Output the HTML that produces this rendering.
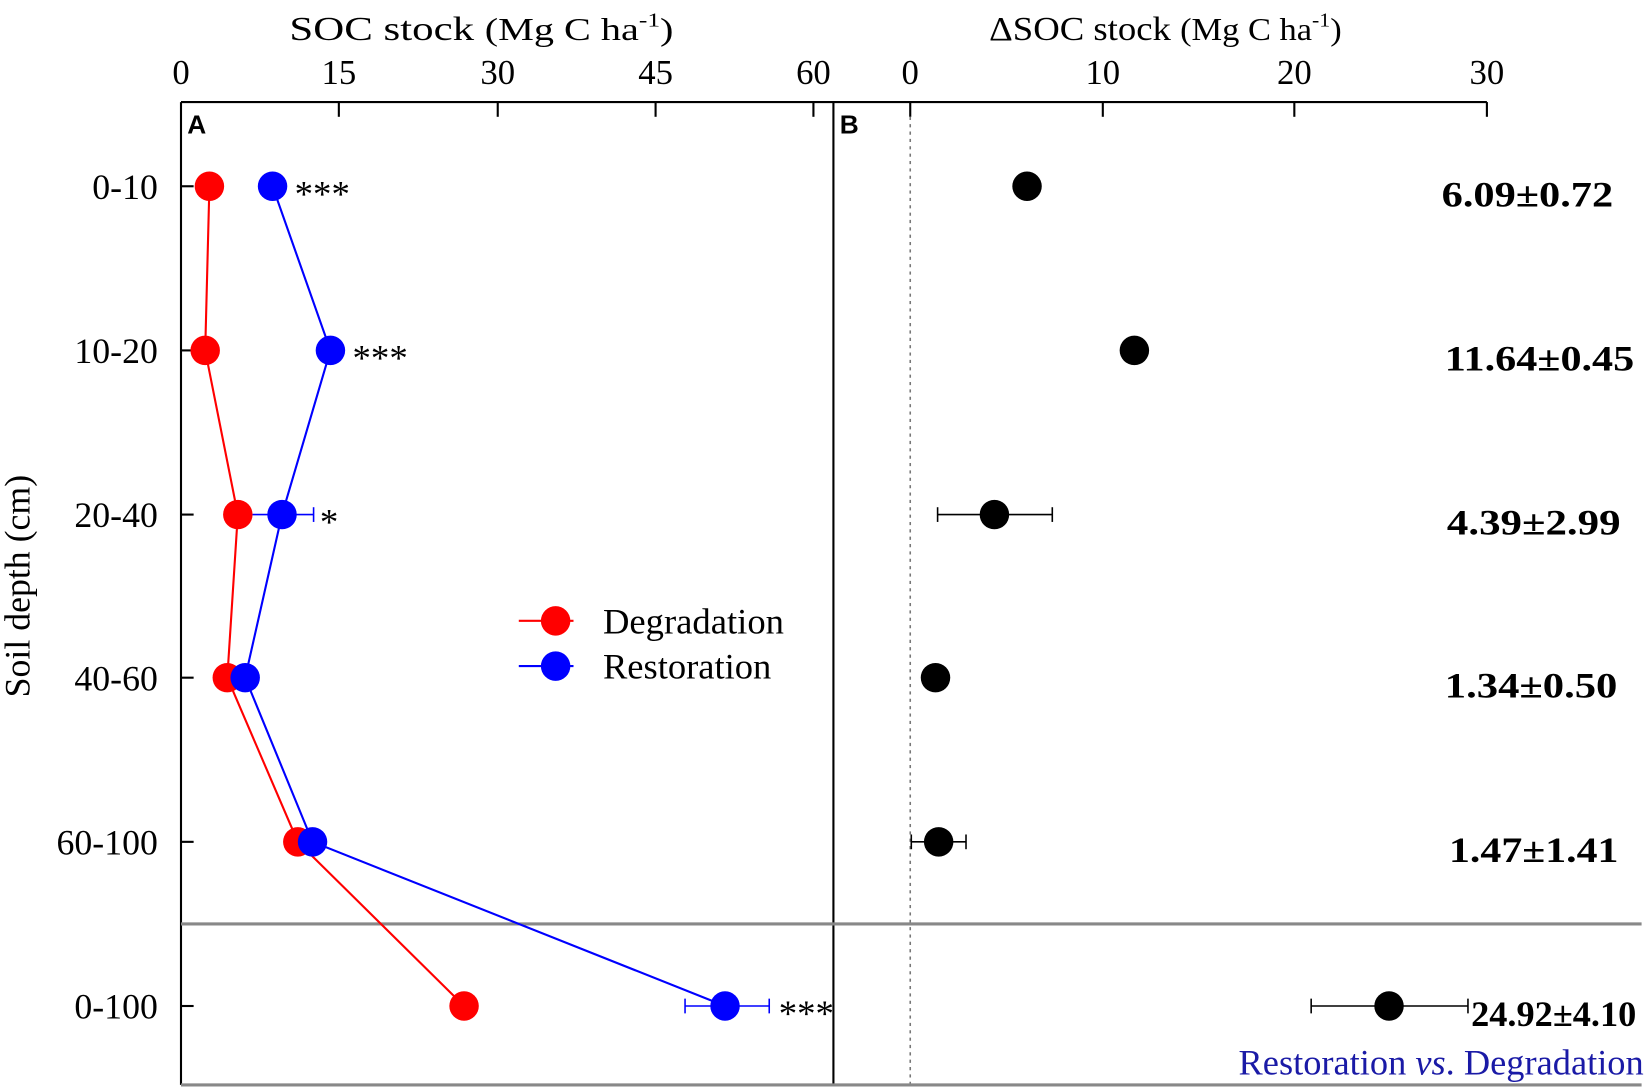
<!DOCTYPE html>
<html><head><meta charset="utf-8"><style>
html,body{margin:0;padding:0;background:#fff;}
svg{display:block;font-family:"Liberation Serif",serif;}
</style></head><body>
<svg width="1650" height="1091" viewBox="0 0 1650 1091" xmlns="http://www.w3.org/2000/svg">
<g transform="scale(1.0523)">
<text x="275" y="38" font-size="32" textLength="365" lengthAdjust="spacingAndGlyphs">SOC stock <tspan font-size="30">(Mg C ha</tspan><tspan font-size="19" dy="-13">-1</tspan><tspan font-size="30" dy="13">)</tspan></text>
<text x="940" y="38" font-size="32" textLength="335" lengthAdjust="spacingAndGlyphs">ΔSOC stock <tspan font-size="30">(Mg C ha</tspan><tspan font-size="19" dy="-13">-1</tspan><tspan font-size="30" dy="13">)</tspan></text>
<g font-size="33" text-anchor="middle">
<text x="172" y="80">0</text><text x="322" y="80">15</text><text x="473" y="80">30</text><text x="623" y="80">45</text><text x="773" y="80">60</text>
<text x="865" y="80">0</text><text x="1048" y="80">10</text><text x="1230" y="80">20</text><text x="1413" y="80">30</text>
</g>
<g stroke="#000" stroke-width="2" fill="none">
<line x1="172" y1="97" x2="1413" y2="97"/>
<line x1="172" y1="97" x2="172" y2="1031"/>
<line x1="792" y1="97" x2="792" y2="1031"/>
<line x1="322" y1="97" x2="322" y2="111"/><line x1="473" y1="97" x2="473" y2="111"/><line x1="623" y1="97" x2="623" y2="111"/><line x1="773" y1="97" x2="773" y2="111"/>
<line x1="865" y1="97" x2="865" y2="111"/><line x1="1048" y1="97" x2="1048" y2="111"/><line x1="1230" y1="97" x2="1230" y2="111"/><line x1="1413" y1="97" x2="1413" y2="111"/>
<line x1="172" y1="177" x2="184" y2="177"/><line x1="172" y1="333" x2="184" y2="333"/><line x1="172" y1="489" x2="184" y2="489"/><line x1="172" y1="644" x2="184" y2="644"/><line x1="172" y1="800" x2="184" y2="800"/><line x1="172" y1="956" x2="184" y2="956"/>
</g>
<line x1="865" y1="111" x2="865" y2="1031" stroke="#777" stroke-width="1.5" stroke-dasharray="3,4"/>
<line x1="172" y1="878" x2="1560" y2="878" stroke="#888" stroke-width="3"/>
<line x1="172" y1="1031" x2="1560" y2="1031" stroke="#888" stroke-width="3"/>
<text x="178" y="127" font-family="Liberation Sans,sans-serif" font-weight="bold" font-size="25">A</text>
<text x="798" y="127" font-family="Liberation Sans,sans-serif" font-weight="bold" font-size="25">B</text>
<g font-size="34" text-anchor="end">
<text x="150" y="189">0-10</text><text x="150" y="345">10-20</text><text x="150" y="501">20-40</text><text x="150" y="656">40-60</text><text x="150" y="812">60-100</text><text x="150" y="968">0-100</text>
</g>
<text transform="translate(28,557) rotate(-90)" font-size="34" text-anchor="middle">Soil depth (cm)</text>
<polyline points="199,177 195,333 226,489 216,644 283,800 441,956" fill="none" stroke="#f00" stroke-width="2"/>
<polyline points="259,177 314,333 268,489 233,644 297,800 689,956" fill="none" stroke="#00f" stroke-width="2"/>
<g stroke="#00f" stroke-width="1.5">
<line x1="240" y1="489" x2="298" y2="489"/><line x1="298" y1="482" x2="298" y2="496"/>
<line x1="651" y1="956" x2="731" y2="956"/><line x1="651" y1="949" x2="651" y2="963"/><line x1="731" y1="949" x2="731" y2="963"/>
</g>
<g fill="#f00"><circle cx="199" cy="177" r="14"/><circle cx="195" cy="333" r="14"/><circle cx="226" cy="489" r="14"/><circle cx="216" cy="644" r="14"/><circle cx="283" cy="800" r="14"/><circle cx="441" cy="956" r="14"/></g>
<g fill="#00f"><circle cx="259" cy="177" r="14"/><circle cx="314" cy="333" r="14"/><circle cx="268" cy="489" r="14"/><circle cx="233" cy="644" r="14"/><circle cx="297" cy="800" r="14"/><circle cx="689" cy="956" r="14"/></g>
<g font-size="35">
<text x="280" y="196">***</text><text x="335" y="352">***</text><text x="304" y="508">*</text><text x="740" y="975">***</text>
</g>
<line x1="493" y1="590" x2="545" y2="590" stroke="#f00" stroke-width="2"/><circle cx="528" cy="590" r="14" fill="#f00"/>
<line x1="493" y1="633" x2="545" y2="633" stroke="#00f" stroke-width="2"/><circle cx="528" cy="633" r="14" fill="#00f"/>
<text x="573" y="602" font-size="34" textLength="172" lengthAdjust="spacingAndGlyphs">Degradation</text>
<text x="573" y="645" font-size="34" textLength="160" lengthAdjust="spacingAndGlyphs">Restoration</text>
<g stroke="#000" stroke-width="1.5">
<line x1="891" y1="489" x2="1000" y2="489"/><line x1="891" y1="482" x2="891" y2="496"/><line x1="1000" y1="482" x2="1000" y2="496"/>
<line x1="866" y1="800" x2="918" y2="800"/><line x1="866" y1="793" x2="866" y2="807"/><line x1="918" y1="793" x2="918" y2="807"/>
<line x1="1246" y1="956" x2="1395" y2="956"/><line x1="1246" y1="949" x2="1246" y2="963"/><line x1="1395" y1="949" x2="1395" y2="963"/>
</g>
<g fill="#000"><circle cx="976" cy="177" r="14"/><circle cx="1078" cy="333" r="14"/><circle cx="945" cy="489" r="14"/><circle cx="889" cy="644" r="14"/><circle cx="892" cy="800" r="14"/><circle cx="1320" cy="956" r="14"/></g>
<g font-size="34" font-weight="bold" lengthAdjust="spacingAndGlyphs">
<text x="1370" y="196" textLength="163" lengthAdjust="spacingAndGlyphs">6.09±0.72</text>
<text x="1373" y="352" textLength="180" lengthAdjust="spacingAndGlyphs">11.64±0.45</text>
<text x="1375" y="508" textLength="165" lengthAdjust="spacingAndGlyphs">4.39±2.99</text>
<text x="1373" y="663" textLength="164" lengthAdjust="spacingAndGlyphs">1.34±0.50</text>
<text x="1377" y="819" textLength="161" lengthAdjust="spacingAndGlyphs">1.47±1.41</text>
<text x="1398" y="975" textLength="157" lengthAdjust="spacingAndGlyphs">24.92±4.10</text>
</g>
<text x="1177" y="1021" font-size="34" fill="#1a1aa6" textLength="385" lengthAdjust="spacingAndGlyphs">Restoration <tspan font-style="italic">vs</tspan>. Degradation</text>
</g>
</svg>
</body></html>
